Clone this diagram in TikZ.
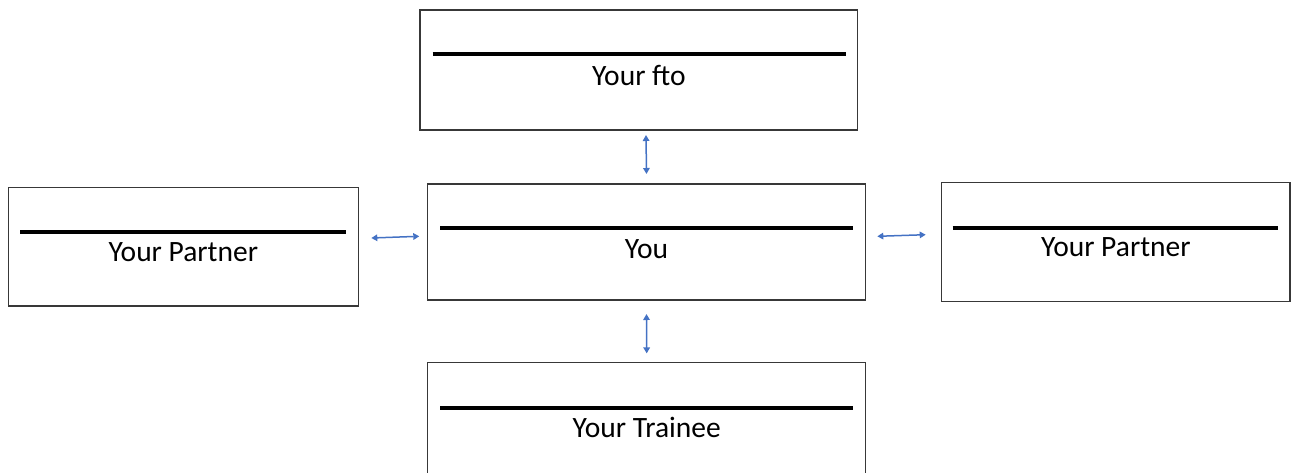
\documentclass[tikz,border=0pt]{standalone}
\usepackage{fontspec}
\setmainfont{Carlito}
\usetikzlibrary{arrows.meta}
\tikzset{
  box/.style={draw=black!78, line width=1.4pt, inner sep=0pt, outer sep=0pt, fill=white},
  rulebar/.style={line width=4pt, black},
  lbl/.style={anchor=base, inner sep=0pt, font=\fontsize{29.5}{35}\selectfont},
  arr/.style={draw={rgb,255:red,68;green,114;blue,196}, line width=1.5pt,
    {Triangle[width=6.5pt,length=6pt]}-{Triangle[width=6.5pt,length=6pt]}}
}
\begin{document}
\begin{tikzpicture}[x=1pt,y=-1pt]
\useasboundingbox (0,0) rectangle (1291,472);
\clip (0,0) rectangle (1291,472);
% boxes
\node[box, minimum width=437.7pt, minimum height=120pt] (fto) at (638.85,70) {};
\node[box, minimum width=350pt, minimum height=118.7pt] (lp) at (183.3,246.65) {};
\node[box, minimum width=438.4pt, minimum height=116pt] (you) at (646.5,242) {};
\node[box, minimum width=348.3pt, minimum height=119pt] (rp) at (1115.85,242.2) {};
\node[box, minimum width=438pt, minimum height=130pt] (tr) at (646.7,427.7) {};
% rules
\draw[rulebar] (432.7,54.3) -- (846,54.3);
\draw[rulebar] (20,232.3) -- (345.7,232.3);
\draw[rulebar] (440,228.3) -- (853,228.3);
\draw[rulebar] (952.7,228) -- (1278,228);
\draw[rulebar] (440,408) -- (853,408);
% labels
\node[lbl] (tfto) at (638.85,85) {Your fto};
\node[lbl] (tlp) at (183.3,261.7) {Your Partner};
\node[lbl] (tyou) at (646.5,258.3) {You};
\node[lbl] (trp) at (1115.85,256) {Your Partner};
\node[lbl] (ttr) at (646.7,437.3) {Your Trainee};
% connectors
\draw[arr] ([xshift=7.15pt,yshift=-5pt]fto.south) -- ([yshift=10pt]you.north);
\draw[arr] ([yshift=-14pt]you.south) -- ([yshift=9.3pt]tr.north);
\draw[arr] ([xshift=13pt,yshift=8.65pt]lp.east) -- ([xshift=-8pt,yshift=5.7pt]you.west);
\draw[arr] ([xshift=11.6pt,yshift=5.7pt]you.east) -- ([xshift=-16pt,yshift=7.5pt]rp.west);
\end{tikzpicture}
\end{document}
